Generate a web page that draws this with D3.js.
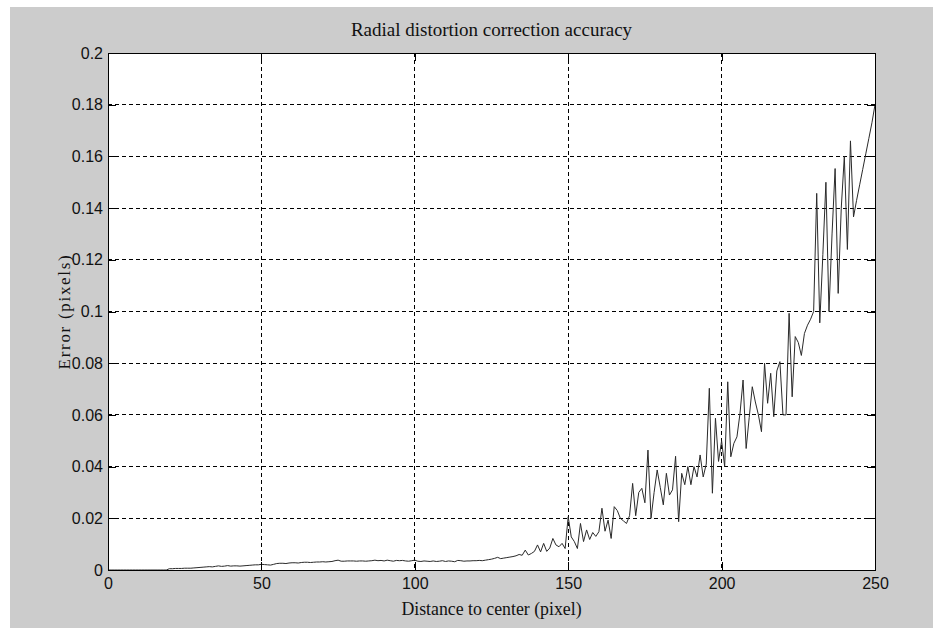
<!DOCTYPE html>
<html>
  <head>
    <title>Radial distortion correction accuracy</title>
    <script src="https://cdn.jsdelivr.net/npm/d3@7"></script>
    <style>
      body, html{
        margin: 0;
        width: 100%;
        height: 100%;
        background: #fff;
      }
      .tick text{
        font-family: "Liberation Sans", Arial, sans-serif;
        font-size: 16px;
        fill: #111;
      }
      .label{
        font-family: "Liberation Serif", "Times New Roman", serif;
        fill: #111;
      }
    </style>
  </head>
  <body>
    <svg id="chart" width="933" height="628"></svg>
    <script>

// distance to center (pixel), one sample per pixel
var dist = d3.range(0, 251)

// error (pixels), 10 values per row
var err = [
  0, 0, 0, 0, 0, 0, 0, 0, 0, 0,
  0, 0, 0, 0, 0, 0, 0, 0, 0, 0,
  0.0005, 0.0005, 0.0006, 0.0006, 0.0006, 0.0007, 0.0007, 0.0007, 0.0008, 0.0009,
  0.0010, 0.0011, 0.0012, 0.0013, 0.0012, 0.0014, 0.0016, 0.0014, 0.0015, 0.0017,
  0.0015, 0.0016, 0.0016, 0.0015, 0.0016, 0.0017, 0.0018, 0.0019, 0.0020, 0.0020,
  0.0022, 0.0021, 0.0020, 0.0019, 0.0022, 0.0025, 0.0026, 0.0026, 0.0025, 0.0027,
  0.0028, 0.0028, 0.0027, 0.0029, 0.0030, 0.0030, 0.0029, 0.0030, 0.0031, 0.0031,
  0.0032, 0.0031, 0.0032, 0.0033, 0.0036, 0.0038, 0.0034, 0.0034, 0.0035, 0.0035,
  0.0035, 0.0034, 0.0035, 0.0035, 0.0034, 0.0035, 0.0036, 0.0038, 0.0036, 0.0037,
  0.0035, 0.0038, 0.0036, 0.0034, 0.0037, 0.0036, 0.0037, 0.0035, 0.0034, 0.0036,
  0.0038, 0.0034, 0.0033, 0.0035, 0.0034, 0.0033, 0.0035, 0.0033, 0.0034, 0.0036,
  0.0033, 0.0035, 0.0034, 0.0032, 0.0037, 0.0036, 0.0034, 0.0035, 0.0035, 0.0036,
  0.0036, 0.0037, 0.0036, 0.0038, 0.0040, 0.0042, 0.0045, 0.0049, 0.0044, 0.0046,
  0.0048, 0.0050, 0.0052, 0.0055, 0.0060, 0.0057, 0.0077, 0.0058, 0.0064, 0.0072,
  0.0097, 0.0070, 0.0103, 0.0072, 0.0085, 0.0122, 0.0097, 0.0090, 0.0103, 0.0083,
  0.0206, 0.0128, 0.0110, 0.0083, 0.0180, 0.0110, 0.0155, 0.0118, 0.0145, 0.0130,
  0.0148, 0.0239, 0.0150, 0.0193, 0.0122, 0.0245, 0.0230, 0.0200, 0.0190, 0.0180,
  0.0210, 0.0335, 0.0210, 0.0300, 0.0316, 0.0260, 0.0464, 0.0200, 0.0300, 0.0387,
  0.0320, 0.0252, 0.0374, 0.0290, 0.0310, 0.0440, 0.0187, 0.0374, 0.0330, 0.0400,
  0.0330, 0.0400, 0.0360, 0.0445, 0.0360, 0.0410, 0.0703, 0.0297, 0.0587, 0.0420,
  0.0500, 0.0400, 0.0728, 0.0438, 0.0490, 0.0515, 0.0606, 0.0735, 0.0470, 0.0590,
  0.0709, 0.0650, 0.0600, 0.0535, 0.0800, 0.0645, 0.0761, 0.0593, 0.0770, 0.0806,
  0.0600, 0.0600, 0.0993, 0.0670, 0.0903, 0.0880, 0.0830, 0.0915, 0.0947, 0.0970,
  0.1000, 0.1457, 0.0956, 0.1220, 0.1500, 0.1000, 0.1300, 0.1553, 0.1070, 0.1400,
  0.1600, 0.1240, 0.1660, 0.1366, 0.1430, 0.1490, 0.1550, 0.1610, 0.1670, 0.1730,
  0.1800
]

var xTicks = [0, 50, 100, 150, 200, 250]
var yTicks = [0, 0.02, 0.04, 0.06, 0.08, 0.1, 0.12, 0.14, 0.16, 0.18, 0.2]
var yTickLabels = ['0', '0.02', '0.04', '0.06', '0.08', '0.1', '0.12', '0.14', '0.16', '0.18', '0.2']

var title = 'Radial distortion correction accuracy'
var xLabel = 'Distance to center (pixel)'
var yLabel = 'Error (pixels)'

var width = 933, height = 628
var pl = 108, pr = 875, pt = 53, pb = 570

var svg = d3.select('#chart')

// gray figure background, thin white strip on top/left like the screenshot
svg.append('rect')
  .attr('x', 10).attr('y', 7)
  .attr('width', width - 10).attr('height', height - 7)
  .attr('fill', '#cccccc')

svg.append('rect')
  .attr('x', pl).attr('y', pt)
  .attr('width', pr - pl).attr('height', pb - pt)
  .attr('fill', '#fff')

var x = d3.scaleLinear().domain([0, 250]).range([pl, pr])
var y = d3.scaleLinear().domain([0, 0.2]).range([pb, pt])

// dashed grid
var grid = svg.append('g')
  .attr('stroke', '#000')
  .attr('stroke-width', 1)
  .attr('stroke-dasharray', '4,3')
  .attr('shape-rendering', 'crispEdges')
grid.selectAll('.gx').data(xTicks.slice(1, -1)).enter().append('line')
  .attr('x1', function(d){ return x(d) }).attr('x2', function(d){ return x(d) })
  .attr('y1', pt).attr('y2', pb)
grid.selectAll('.gy').data(yTicks.slice(1, -1)).enter().append('line')
  .attr('y1', function(d){ return y(d) }).attr('y2', function(d){ return y(d) })
  .attr('x1', pl).attr('x2', pr)

// the curve
var line = d3.line()
  .x(function(d, i){ return x(dist[i]) })
  .y(function(d){ return y(d) })
svg.append('path')
  .datum(err)
  .attr('d', line)
  .attr('fill', 'none')
  .attr('stroke', '#2a2a2a')
  .attr('stroke-width', 1)

// axes, ticks point inwards like matlab
var fmtY = function(d){ return yTickLabels[yTicks.indexOf(d)] }
svg.append('g')
  .attr('transform', 'translate(0,' + pb + ')')
  .call(d3.axisBottom(x).tickValues(xTicks).tickSizeInner(-8).tickSizeOuter(0).tickPadding(8))
svg.append('g')
  .attr('transform', 'translate(' + pl + ',0)')
  .call(d3.axisLeft(y).tickValues(yTicks).tickFormat(fmtY).tickSizeInner(-8).tickSizeOuter(0).tickPadding(5))
svg.append('g')
  .attr('transform', 'translate(0,' + pt + ')')
  .call(d3.axisTop(x).tickValues(xTicks).tickSizeInner(-8).tickSizeOuter(0).tickFormat(''))
svg.append('g')
  .attr('transform', 'translate(' + pr + ',0)')
  .call(d3.axisRight(y).tickValues(yTicks).tickSizeInner(-8).tickSizeOuter(0).tickFormat(''))
svg.selectAll('.domain').remove()
svg.selectAll('.tick line').attr('stroke', '#000').attr('shape-rendering', 'crispEdges')

// box
svg.append('rect')
  .attr('x', pl).attr('y', pt)
  .attr('width', pr - pl).attr('height', pb - pt)
  .attr('fill', 'none').attr('stroke', '#000')
  .attr('shape-rendering', 'crispEdges')

svg.append('text').attr('class', 'label')
  .attr('x', (pl + pr) / 2).attr('y', 36)
  .attr('text-anchor', 'middle').style('font-size', '19px')
  .text(title)

svg.append('text').attr('class', 'label')
  .attr('x', (pl + pr) / 2).attr('y', 615)
  .attr('text-anchor', 'middle').style('font-size', '17.8px')
  .text(xLabel)

svg.append('text').attr('class', 'label')
  .attr('transform', 'translate(70,' + (pt + pb) / 2 + ') rotate(-90)')
  .attr('text-anchor', 'middle').style('font-size', '17px')
  .style('letter-spacing', '1.7px')
  .text(yLabel)
    </script>
  </body>
</html>
